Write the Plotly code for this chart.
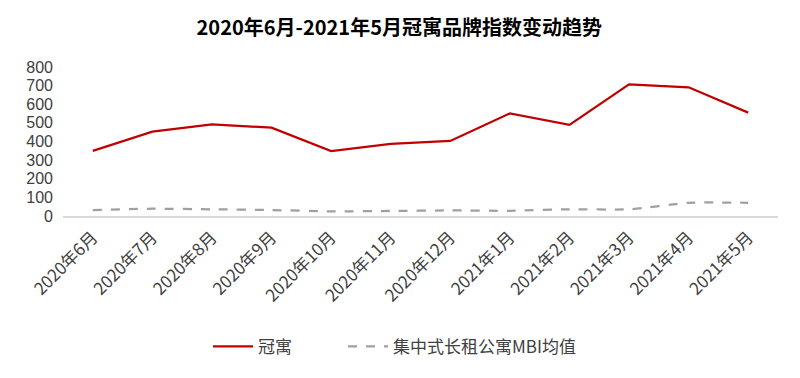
import plotly.graph_objects as go

months = ["2020年6月", "2020年7月", "2020年8月", "2020年9月", "2020年10月", "2020年11月",
          "2020年12月", "2021年1月", "2021年2月", "2021年3月", "2021年4月", "2021年5月"]
guanyu = [350, 453, 492, 474, 349, 387, 403, 551, 489, 707, 691, 555]
mbi_avg = [32, 39, 36, 32, 25, 27, 30, 28, 36, 36, 71, 71]

font_family = "Noto Sans CJK SC, Noto Sans, sans-serif"
text_color = "#404040"

fig = go.Figure()
fig.add_trace(go.Scatter(
    x=months, y=guanyu, name="冠寓", mode="lines", legend="legend",
    line=dict(color="#C00000", width=2.25)))
fig.add_trace(go.Scatter(
    x=months, y=mbi_avg, name="集中式长租公寓MBI均值", mode="lines", legend="legend2",
    line=dict(color="#A0A0A0", width=2.25, dash="dash", shape="spline", smoothing=0.6)))

W, H = 792, 370  # page body adds an 8px offset
legend_style = dict(orientation="h", xref="container", xanchor="left",
                    yref="container", y=0.084, yanchor="middle",
                    font=dict(size=17, color=text_color), itemwidth=40)

fig.update_layout(
    width=W, height=H,
    margin=dict(l=55, r=22, t=59, b=162, autoexpand=False),
    paper_bgcolor="white", plot_bgcolor="white",
    font=dict(family=font_family, color=text_color, size=16),
    title=dict(text="<b>2020年6月-2021年5月冠寓品牌指数变动趋势</b>",
               x=0.494, xanchor="center", xref="container", y=0.946, yanchor="middle", yref="container",
               font=dict(size=20, color="#000000", family=font_family)),
    xaxis=dict(showgrid=False, showline=True, linecolor="#D9D9D9", linewidth=1.5,
               range=[-0.5, 11.5], automargin=False,
               tickangle=-45, ticks="", ticklabelstandoff=3,
               tickfont=dict(size=17, color=text_color)),
    yaxis=dict(range=[0, 800], dtick=100, showgrid=False, showline=False, zeroline=False,
               automargin=False, ticks="", ticklabelstandoff=9,
               tickfont=dict(size=16, color=text_color, family="Liberation Sans, Arial, sans-serif")),
    legend=dict(x=200 / W, **legend_style),
    legend2=dict(x=335 / W, **legend_style),
    showlegend=True,
)

fig.write_html("out.html")
